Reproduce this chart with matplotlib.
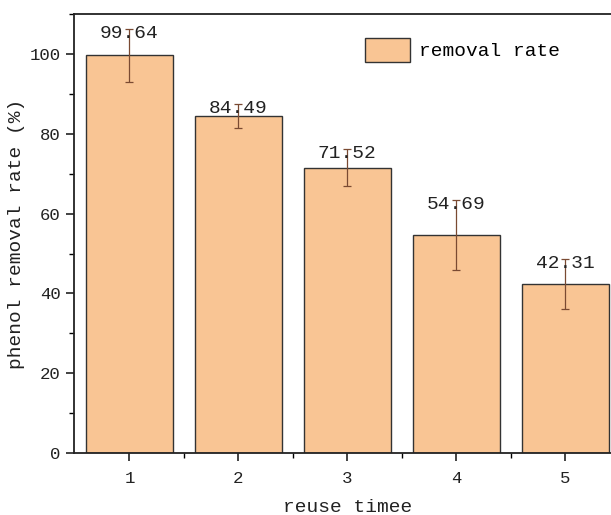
import numpy as np
import matplotlib
matplotlib.use("Agg")
import matplotlib.pyplot as plt
from matplotlib.ticker import MultipleLocator, FixedLocator

plt.rcParams['font.family'] = ['Liberation Mono', 'DejaVu Sans']

# data
reuse = [1, 2, 3, 4, 5]
removal = [99.64, 84.49, 71.52, 54.69, 42.31]
errors = [6.6, 3.0, 4.6, 8.7, 6.2]

fig = plt.figure(figsize=(6.11, 5.15), dpi=100)
ax = fig.add_axes([0.121, 0.120, 0.895, 0.853])

ax.bar(reuse, removal, width=0.8, color='#F9C594', edgecolor='#333333',
       linewidth=1.0, label='removal rate', zorder=2)
ax.errorbar(reuse, removal, yerr=errors, fmt='none', ecolor='#7a4a32',
            elinewidth=0.9, capsize=3, capthick=0.9, zorder=3)

# value labels sit around the top of each error bar
for x, v, e in zip(reuse, removal, errors):
    ax.text(x, v + e - 1.1, f"{v:.2f}", ha='center', va='center', fontsize=14,
            color='#222222', zorder=4)

ax.set_xlim(0.49, 5.51)
ax.set_ylim(0, 110)
ax.set_xticks(reuse)
ax.xaxis.set_minor_locator(FixedLocator([1.5, 2.5, 3.5, 4.5]))
ax.set_yticks(np.arange(0, 101, 20))
ax.yaxis.set_minor_locator(MultipleLocator(10))
ax.tick_params(which='major', direction='out', length=6, width=1.2, labelsize=12.5, colors='#222222')
ax.tick_params(which='minor', direction='out', length=3.5, width=1.0)
ax.tick_params(axis='x', pad=7)

for s in ['left', 'bottom', 'top']:
    ax.spines[s].set_linewidth(1.3)
    ax.spines[s].set_color('#222222')
ax.spines['right'].set_visible(False)

ax.set_xlabel('reuse timee', fontsize=14, color='#222222', labelpad=9)
ax.set_ylabel('phenol removal rate (%)', fontsize=14, color='#222222', labelpad=3)

ax.legend(loc='upper left', bbox_to_anchor=(0.50, 0.985), frameon=False, fontsize=14,
          handlelength=2.3, handleheight=1.5, handletextpad=0.5)

fig.savefig('out.png', dpi=100)
